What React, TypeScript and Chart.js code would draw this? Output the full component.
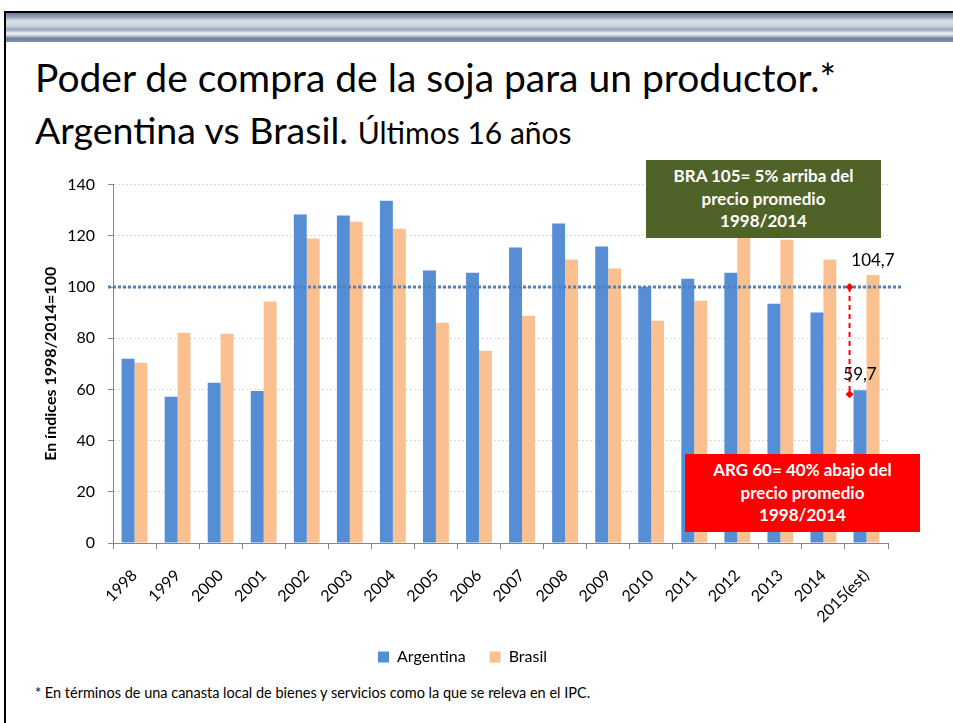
import React, { useEffect, useRef } from "react";
import { Chart, registerables } from "chart.js";

Chart.register(...registerables);

const categories = ["1998", "1999", "2000", "2001", "2002", "2003", "2004", "2005", "2006", "2007", "2008", "2009", "2010", "2011", "2012", "2013", "2014", "2015(est)"];
const argentina = [72.0, 57.1, 62.6, 59.4, 128.3, 127.9, 133.7, 106.4, 105.6, 115.4, 124.8, 115.8, 100.1, 103.2, 105.6, 93.5, 90.0, 59.7];
const brasil = [70.4, 82.1, 81.7, 94.3, 118.9, 125.5, 122.8, 86.0, 75.1, 88.8, 110.7, 107.2, 86.8, 94.6, 120.0, 118.5, 110.7, 104.7];
const seriesNames = ["Argentina", "Brasil"];
const yMin = 0;
const yMax = 140;
const yStep = 20;
const referenceValue = 100;
const brasilLastLabel = "104,7";
const argentinaLastLabel = "59,7";
const yAxisTitle = "En índices 1998/2014=100";

const FONT = "Lato, 'Open Sans', sans-serif";
const lastIndex = categories.length - 1;

const annotationPlugin = {
  id: "slideAnnotations",
  afterDatasetsDraw(chart: any) {
    const { ctx, chartArea, scales } = chart;
    const yScale = scales.y;
    const y100 = yScale.getPixelForValue(referenceValue);
    ctx.save();
    ctx.strokeStyle = "#4f81bd";
    ctx.lineWidth = 3;
    ctx.setLineDash([3, 2]);
    ctx.beginPath();
    ctx.moveTo(chartArea.left - 5, y100);
    ctx.lineTo(chartArea.right + 15, y100);
    ctx.stroke();

    const argBar = chart.getDatasetMeta(0).data[lastIndex];
    const braBar = chart.getDatasetMeta(1).data[lastIndex];
    const xr = argBar.x - argBar.width / 2 - 4;
    const yBottom = argBar.y + 4;
    ctx.strokeStyle = "#ff0000";
    ctx.lineWidth = 2;
    ctx.setLineDash([5, 4]);
    ctx.beginPath();
    ctx.moveTo(xr, y100);
    ctx.lineTo(xr, yBottom);
    ctx.stroke();
    ctx.setLineDash([]);
    ctx.fillStyle = "#ff0000";
    const diamond = (cx: number, cy: number) => {
      ctx.beginPath();
      ctx.moveTo(cx, cy - 4);
      ctx.lineTo(cx + 4, cy);
      ctx.lineTo(cx, cy + 4);
      ctx.lineTo(cx - 4, cy);
      ctx.closePath();
      ctx.fill();
    };
    diamond(xr, y100);
    diamond(xr, yBottom);

    ctx.fillStyle = "#000";
    ctx.font = `17px ${FONT}`;
    ctx.textAlign = "center";
    ctx.textBaseline = "alphabetic";
    ctx.fillText(brasilLastLabel, braBar.x, braBar.y - 9);
    ctx.fillText(argentinaLastLabel, argBar.x, argBar.y - 10);
    ctx.restore();
  },
};

function ChartCanvas() {
  const ref = useRef<HTMLCanvasElement | null>(null);
  useEffect(() => {
    if (!ref.current) return;
    const chart = new Chart(ref.current, {
      type: "bar",
      data: {
        labels: categories,
        datasets: [
          { label: seriesNames[0], data: argentina, backgroundColor: "#558ed5", categoryPercentage: 0.6, barPercentage: 1.0, borderWidth: 0 },
          { label: seriesNames[1], data: brasil, backgroundColor: "#fac090", categoryPercentage: 0.6, barPercentage: 1.0, borderWidth: 0 },
        ],
      },
      options: {
        animation: false,
        responsive: false,
        maintainAspectRatio: false,
        layout: { padding: { top: 0, right: 37, bottom: 4, left: 17 } },
        plugins: {
          legend: {
            position: "bottom",
            labels: { boxWidth: 11, boxHeight: 11, color: "#000", font: { family: FONT, size: 16 }, padding: 24 },
          },
          tooltip: { enabled: false },
        },
        scales: {
          x: {
            afterFit: (scale: any) => {
              scale.height = 82;
            },
            grid: { display: true, drawOnChartArea: false, drawTicks: true, tickLength: 6, color: "#868686", offset: true },
            border: { color: "#868686" },
            ticks: { minRotation: 45, maxRotation: 45, autoSkip: false, color: "#000", font: { family: FONT, size: 16 }, padding: 17 },
          },
          y: {
            min: yMin,
            max: yMax,
            afterFit: (scale: any) => {
              scale.width = 76;
            },
            ticks: { stepSize: yStep, color: "#000", font: { family: FONT, size: 16 }, padding: 13 },
            grid: { color: "#d9d9d9", tickLength: 5, tickColor: "#868686" },
            border: { color: "#868686", dash: [2, 2] },
            title: { display: true, text: yAxisTitle, color: "#000", font: { family: FONT, size: 16, weight: "bold" }, padding: { top: 4, bottom: 7 } },
          },
        },
      },
      plugins: [annotationPlugin],
    });
    return () => chart.destroy();
  }, []);
  return <canvas ref={ref} width={905} height={517} style={{ position: "absolute", left: 20, top: 162, width: 905, height: 517 }} />;
}

export default function App() {
  const boxText: React.CSSProperties = {
    position: "absolute",
    color: "#fff",
    fontFamily: FONT,
    fontWeight: 700,
    fontSize: 17,
    lineHeight: "22.5px",
    textAlign: "center",
    boxSizing: "border-box",
    paddingTop: 5,
    zIndex: 2,
  };
  return (
    <div style={{ position: "absolute", left: 0, top: 0, width: 953, height: 723, overflow: "hidden", background: "#fff", fontFamily: FONT }}>
      <div style={{ position: "absolute", left: 4, top: 11, width: 949, height: 2, background: "#000" }} />
      <div style={{ position: "absolute", left: 4, top: 11, width: 2, height: 712, background: "#000" }} />
      <div
        style={{
          position: "absolute",
          left: 6,
          top: 13,
          width: 947,
          height: 29,
          background:
            "linear-gradient(180deg, #6b7b98 0%, #8f9cb4 12%, #d9e1ea 28%, #c9d1dc 45%, #9aa6b9 58%, #eef3f7 70%, #c5cfdc 78%, #6f7f9b 88%, #8594ae 100%)",
        }}
      />
      <div style={{ position: "absolute", left: 35, top: 53, fontSize: 39, color: "#000", whiteSpace: "nowrap", lineHeight: "48px" }}>
        Poder de compra de la soja para un productor.*
      </div>
      <div style={{ position: "absolute", left: 35, top: 106, fontSize: 37.5, color: "#000", whiteSpace: "nowrap", lineHeight: "48px" }}>
        Argentina vs Brasil. <span style={{ fontSize: 30 }}>Últimos 16 años</span>
      </div>
      <ChartCanvas />
      <div style={{ ...boxText, left: 646, top: 160, width: 235, height: 78, background: "#4f6228" }}>
        BRA 105= 5% arriba del
        <br />
        precio promedio
        <br />
        1998/2014
      </div>
      <div style={{ ...boxText, left: 685, top: 454, width: 235, height: 78, background: "#ff0000" }}>
        ARG 60= 40% abajo del
        <br />
        precio promedio
        <br />
        1998/2014
      </div>
      <div style={{ position: "absolute", left: 35, top: 684, fontSize: 14.5, lineHeight: "18px", color: "#000", whiteSpace: "nowrap" }}>
        * En términos de una canasta local de bienes y servicios como la que se releva en el IPC.
      </div>
    </div>
  );
}
